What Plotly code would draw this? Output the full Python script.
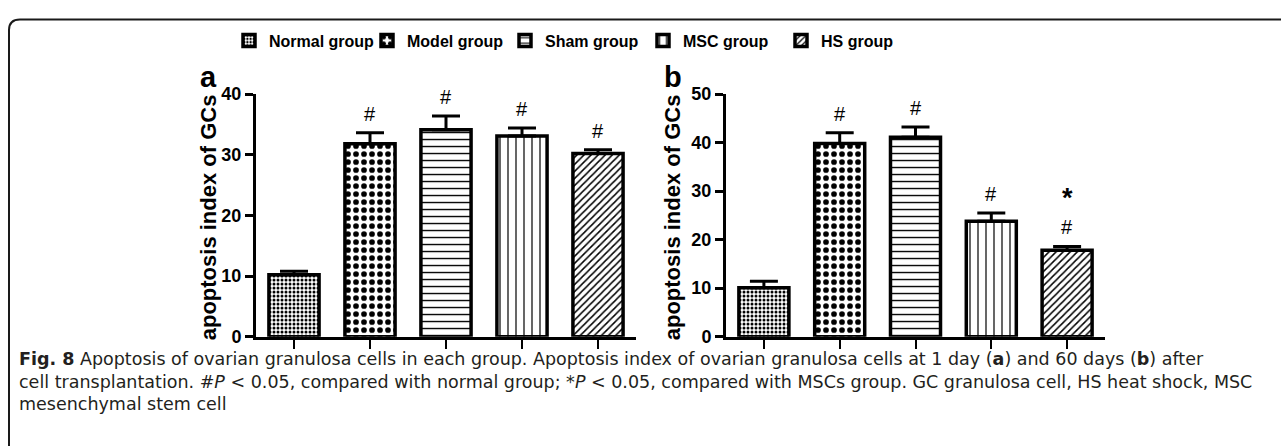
import plotly.graph_objects as go

# ---------------- data ----------------
groups = ["Normal group", "Model group", "Sham group", "MSC group", "HS group"]
day1_mean = [10.2, 31.8, 34.1, 33.1, 30.2]
day1_err = [0.6, 1.8, 2.3, 1.3, 0.6]
day60_mean = [10.1, 39.8, 41.1, 23.8, 17.8]
day60_err = [1.3, 2.2, 2.1, 1.7, 0.8]
day1_marks = ["", "#", "#", "#", "#"]
day60_marks = ["", "#", "#", "#", "#"]
day60_star = ["", "", "", "", "*"]
y_title = "apoptosis index of GCs"
caption_lines = [
    "<b>Fig. 8</b> Apoptosis of ovarian granulosa cells in each group. Apoptosis index of ovarian granulosa cells at 1 day (<b>a</b>) and 60 days (<b>b</b>) after",
    "cell transplantation. #<i>P</i> &lt; 0.05, compared with normal group; *<i>P</i> &lt; 0.05, compared with MSCs group. GC granulosa cell, HS heat shock, MSC",
    "mesenchymal stem cell",
]

# ---------------- styles ----------------
W, H = 1281, 446
patterns = [
    dict(shape=".", size=4, solidity=0.45),
    dict(shape=".", size=8, solidity=0.4),
    dict(shape="-", size=7, solidity=0.2),
    dict(shape="|", size=8, solidity=0.15),
    dict(shape="/", size=5, solidity=0.3),
]
FONT = "Liberation Sans, Arial, sans-serif"


def px(x):
    return x / W


def py(y):
    return 1 - y / H


fig = go.Figure()

panels = [
    ("x", "y", day1_mean, day1_err, True),
    ("x2", "y2", day60_mean, day60_err, False),
]
for xa, ya, means, errs, show in panels:
    for i, g in enumerate(groups):
        pat = patterns[i]
        fig.add_trace(go.Bar(
            x=[i], y=[means[i]], name=g, legendgroup=g, showlegend=show,
            xaxis=xa, yaxis=ya, width=0.66,
            marker=dict(
                color="white",
                line=dict(color="black", width=3.5),
                pattern=dict(shape=pat["shape"], size=pat["size"], solidity=pat["solidity"],
                             fgcolor="black", bgcolor="white", fillmode="replace"),
            ),
            error_y=dict(type="data", symmetric=False, array=[errs[i]], arrayminus=[0],
                         color="black", thickness=3, width=14),
        ))

ydom = [py(342), py(88)]
axis_common = dict(showline=True, linecolor="black", linewidth=3, mirror=False,
                   showgrid=False, zeroline=False)
fig.update_layout(
    barmode="overlay",
    width=W, height=H,
    margin=dict(l=0, r=0, t=0, b=0),
    paper_bgcolor="white", plot_bgcolor="white",
    font=dict(family=FONT, color="black"),
    xaxis=dict(domain=[px(256), px(636)], range=[-0.5, 4.5], tickvals=list(range(5)),
               showticklabels=False, ticks="outside", ticklen=9, tickwidth=2, tickcolor="black",
               anchor="y", **axis_common),
    yaxis=dict(domain=ydom, range=[0, 40], tickvals=[0, 10, 20, 30, 40], ticks="outside",
               ticklen=8, tickwidth=3, tickcolor="black", anchor="x",
               tickfont=dict(size=18, weight="bold", family=FONT), **axis_common),
    xaxis2=dict(domain=[px(726), px(1105)], range=[-0.5, 4.5], tickvals=list(range(5)),
                showticklabels=False, ticks="outside", ticklen=9, tickwidth=2, tickcolor="black",
                anchor="y2", **axis_common),
    yaxis2=dict(domain=ydom, range=[0, 50], tickvals=[0, 10, 20, 30, 40, 50], ticks="outside",
                ticklen=8, tickwidth=3, tickcolor="black", anchor="x2",
                tickfont=dict(size=18, weight="bold", family=FONT), **axis_common),
    legend=dict(orientation="h", x=px(229), y=py(32), xanchor="left", yanchor="middle",
                font=dict(size=16, weight="bold", family=FONT), bgcolor="rgba(0,0,0,0)",
                entrywidth=93, entrywidthmode="pixels",
                itemclick=False, traceorder="normal"),
    showlegend=True,
)

annotations = []
# significance marks
for xa, ya, means, errs, marks in [("x", "y", day1_mean, day1_err, day1_marks),
                                    ("x2", "y2", day60_mean, day60_err, day60_marks)]:
    for i, m in enumerate(marks):
        if m:
            annotations.append(dict(x=i, y=means[i] + errs[i], xref=xa, yref=ya, text=m,
                                    showarrow=False, yanchor="middle", yshift=19, borderpad=0,
                                    font=dict(size=20, family=FONT)))
for i, s in enumerate(day60_star):
    if s:
        annotations.append(dict(x=i, y=day60_mean[i] + day60_err[i], xref="x2", yref="y2",
                                text="<b>" + s + "</b>", showarrow=False, yanchor="bottom",
                                yshift=32, borderpad=0, font=dict(size=27, family=FONT)))
# axis titles
for xc in (208, 672):
    annotations.append(dict(x=px(xc), y=py(217), xref="paper", yref="paper", text="<b>" + y_title + "</b>",
                            textangle=-90, showarrow=False, xanchor="center", yanchor="middle",
                            font=dict(size=22, family=FONT)))
# panel labels
for lab, xc, yc in (("a", 208, 70), ("b", 673, 70)):
    annotations.append(dict(x=px(xc), y=py(yc), xref="paper", yref="paper", text="<b>" + lab + "</b>",
                            showarrow=False, xanchor="center", yanchor="middle",
                            font=dict(size=29, family=FONT)))
# caption
for line, yc in zip(caption_lines, (365, 389, 413)):
    annotations.append(dict(x=px(17), y=py(yc), xref="paper", yref="paper", text=line,
                            showarrow=False, xanchor="left", yanchor="middle", align="left",
                            font=dict(size=17.5, family="DejaVu Sans, sans-serif", color="#231f20")))
fig.update_layout(annotations=annotations)

# frame (rounded top-left corner)
x0, yt, r = px(9), py(10), 11
path = (f"M 1.01,{yt} L {px(9 + r)},{yt} Q {x0},{yt} {x0},{py(10 + r)} L {x0},-0.05")
fig.add_shape(type="path", path=path, xref="paper", yref="paper",
              line=dict(color="#1a1a1a", width=2))

fig.write_html("out.html")
